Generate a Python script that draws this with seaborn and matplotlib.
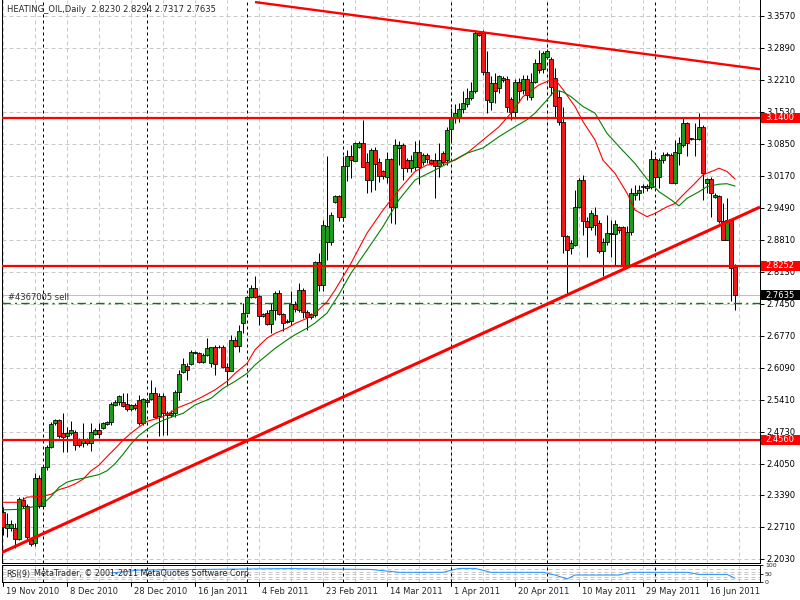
import numpy as np
import pandas as pd
import matplotlib
matplotlib.use("Agg")
import matplotlib.pyplot as plt
from matplotlib.patches import Rectangle
import seaborn as sns

# ---------------- data ----------------
opens = [2.303, 2.268, 2.268, 2.268, 2.245, 2.327, 2.315, 2.243, 2.236, 2.374,
         2.315, 2.398, 2.441, 2.491, 2.497, 2.470, 2.464, 2.470, 2.473, 2.456,
         2.449, 2.456, 2.449, 2.468, 2.477, 2.480, 2.490, 2.494, 2.530, 2.537,
         2.537, 2.532, 2.521, 2.530, 2.541, 2.491, 2.541, 2.542, 2.555, 2.507,
         2.548, 2.512, 2.509, 2.512, 2.558, 2.599, 2.612, 2.616, 2.641, 2.640,
         2.622, 2.636, 2.618, 2.652, 2.654, 2.654, 2.611, 2.603, 2.668, 2.655,
         2.703, 2.726, 2.759, 2.778, 2.761, 2.718, 2.725, 2.702, 2.732, 2.767,
         2.723, 2.709, 2.709, 2.745, 2.732, 2.774, 2.728, 2.716, 2.721, 2.833,
         2.785, 2.876, 2.877, 2.962, 2.973, 2.930, 3.038, 3.059, 3.048, 3.077,
         3.087, 3.047, 3.007, 3.072, 3.047, 3.028, 3.015, 3.052, 2.951, 3.075,
         3.082, 3.050, 3.033, 3.036, 3.068, 3.046, 3.061, 3.050, 3.050, 3.038,
         3.065, 3.050, 3.116, 3.139, 3.139, 3.158, 3.170, 3.182, 3.196, 3.321,
         3.321, 3.238, 3.174, 3.213, 3.203, 3.224, 3.222, 3.179, 3.153, 3.217,
         3.200, 3.222, 3.185, 3.217, 3.257, 3.243, 3.270, 3.266, 3.224, 3.185,
         3.132, 2.888, 2.863, 2.870, 2.951, 3.008, 2.920, 2.909, 2.934, 2.916,
         2.856, 2.877, 2.895, 2.893, 2.907, 2.907, 2.828, 2.898, 2.976, 2.980,
         2.995, 2.990, 2.993, 3.052, 3.015, 3.050, 3.064, 3.061, 3.002, 3.066,
         3.082, 3.128, 3.096, 3.095, 3.096, 3.120, 3.001, 3.010, 2.971, 2.973,
         2.920, 2.880, 2.924, 2.8230]
highs = [2.314, 2.300, 2.285, 2.280, 2.335, 2.335, 2.320, 2.245, 2.385, 2.381,
         2.403, 2.445, 2.494, 2.499, 2.499, 2.512, 2.484, 2.495, 2.477, 2.460,
         2.492, 2.460, 2.491, 2.480, 2.491, 2.494, 2.496, 2.537, 2.540, 2.551,
         2.555, 2.555, 2.532, 2.535, 2.551, 2.544, 2.545, 2.583, 2.569, 2.555,
         2.555, 2.516, 2.520, 2.562, 2.605, 2.629, 2.619, 2.647, 2.645, 2.643,
         2.640, 2.672, 2.654, 2.657, 2.657, 2.657, 2.618, 2.679, 2.675, 2.700,
         2.746, 2.762, 2.785, 2.803, 2.763, 2.725, 2.732, 2.746, 2.771, 2.774,
         2.725, 2.712, 2.771, 2.750, 2.790, 2.778, 2.732, 2.725, 2.835, 2.852,
         2.922, 3.058, 2.940, 2.975, 2.975, 3.058, 3.072, 3.082, 3.089, 3.090,
         3.135, 3.065, 3.075, 3.079, 3.054, 3.030, 3.068, 3.054, 3.096, 3.090,
         3.086, 3.055, 3.060, 3.090, 3.093, 3.065, 3.065, 3.052, 3.065, 3.086,
         3.070, 3.120, 3.160, 3.170, 3.172, 3.196, 3.203, 3.217, 3.327, 3.325,
         3.327, 3.281, 3.228, 3.235, 3.231, 3.228, 3.228, 3.185, 3.222, 3.224,
         3.230, 3.231, 3.235, 3.266, 3.284, 3.281, 3.286, 3.270, 3.245, 3.199,
         3.164, 2.890, 2.880, 2.987, 3.012, 3.019, 2.930, 2.944, 2.951, 2.923,
         2.884, 2.934, 2.923, 2.923, 2.910, 2.910, 2.910, 2.990, 2.997, 2.997,
         3.000, 3.000, 3.072, 3.058, 3.054, 3.068, 3.068, 3.065, 3.093, 3.100,
         3.139, 3.132, 3.098, 3.128, 3.150, 3.125, 3.012, 3.015, 2.981, 2.976,
         2.958, 2.970, 2.926, 2.8294]
lows = [2.254, 2.250, 2.262, 2.226, 2.243, 2.310, 2.240, 2.231, 2.231, 2.310,
        2.310, 2.392, 2.438, 2.488, 2.459, 2.429, 2.429, 2.465, 2.434, 2.440,
        2.441, 2.445, 2.431, 2.465, 2.459, 2.478, 2.488, 2.487, 2.528, 2.530,
        2.526, 2.516, 2.518, 2.520, 2.487, 2.487, 2.530, 2.540, 2.502, 2.463,
        2.466, 2.466, 2.505, 2.505, 2.541, 2.598, 2.583, 2.615, 2.638, 2.620,
        2.620, 2.633, 2.611, 2.594, 2.650, 2.609, 2.572, 2.601, 2.654, 2.643,
        2.682, 2.725, 2.757, 2.757, 2.700, 2.716, 2.700, 2.682, 2.711, 2.721,
        2.686, 2.705, 2.700, 2.728, 2.728, 2.714, 2.690, 2.712, 2.716, 2.771,
        2.771, 2.838, 2.870, 2.960, 2.920, 2.920, 3.005, 3.012, 3.048, 3.075,
        3.036, 2.980, 2.983, 2.987, 3.004, 3.010, 3.001, 2.916, 2.915, 3.040,
        3.008, 3.025, 3.025, 3.030, 3.000, 3.040, 3.045, 3.040, 2.969, 3.015,
        3.040, 3.040, 3.090, 3.130, 3.132, 3.150, 3.162, 3.178, 3.192, 3.313,
        3.231, 3.150, 3.157, 3.171, 3.192, 3.217, 3.153, 3.136, 3.142, 3.174,
        3.190, 3.178, 3.178, 3.213, 3.235, 3.235, 3.266, 3.189, 3.142, 3.125,
        2.852, 2.767, 2.850, 2.867, 2.948, 2.891, 2.845, 2.902, 2.891, 2.852,
        2.803, 2.870, 2.845, 2.827, 2.895, 2.821, 2.820, 2.890, 2.966, 2.966,
        2.980, 2.985, 2.988, 2.994, 2.990, 3.044, 3.058, 3.001, 3.000, 3.040,
        3.079, 3.058, 3.093, 3.058, 3.093, 2.966, 2.980, 2.930, 2.969, 2.916,
        2.880, 2.880, 2.750, 2.7317]
closes = [2.271, 2.277, 2.277, 2.245, 2.330, 2.315, 2.250, 2.235, 2.374, 2.315,
          2.398, 2.441, 2.489, 2.497, 2.464, 2.461, 2.471, 2.477, 2.445, 2.445,
          2.457, 2.449, 2.473, 2.477, 2.468, 2.492, 2.494, 2.532, 2.537, 2.549,
          2.528, 2.521, 2.530, 2.523, 2.491, 2.542, 2.537, 2.555, 2.505, 2.549,
          2.512, 2.509, 2.513, 2.558, 2.595, 2.616, 2.604, 2.642, 2.643, 2.622,
          2.636, 2.650, 2.652, 2.617, 2.652, 2.611, 2.603, 2.668, 2.655, 2.686,
          2.726, 2.759, 2.778, 2.760, 2.718, 2.723, 2.702, 2.732, 2.767, 2.723,
          2.703, 2.707, 2.745, 2.733, 2.774, 2.728, 2.716, 2.723, 2.833, 2.785,
          2.912, 2.910, 2.934, 2.973, 2.930, 3.038, 3.059, 3.050, 3.087, 3.087,
          3.036, 3.007, 3.072, 3.042, 3.017, 3.017, 3.052, 2.951, 3.082, 3.082,
          3.033, 3.033, 3.050, 3.068, 3.036, 3.061, 3.052, 3.044, 3.038, 3.050,
          3.047, 3.115, 3.139, 3.150, 3.158, 3.171, 3.182, 3.198, 3.321, 3.316,
          3.238, 3.178, 3.213, 3.196, 3.228, 3.220, 3.164, 3.153, 3.217, 3.196,
          3.222, 3.189, 3.217, 3.257, 3.242, 3.277, 3.283, 3.206, 3.165, 3.132,
          2.888, 2.860, 2.873, 2.951, 3.008, 2.920, 2.909, 2.937, 2.912, 2.856,
          2.877, 2.895, 2.893, 2.914, 2.902, 2.828, 2.898, 2.980, 2.981, 2.987,
          2.994, 2.995, 3.052, 3.014, 3.050, 3.061, 3.061, 3.002, 3.068, 3.086,
          3.128, 3.086, 3.095, 3.094, 3.120, 3.022, 3.010, 2.980, 2.976, 2.920,
          2.880, 2.923, 2.820, 2.7635]

# moving averages (bar index, price)
ma_red_bars = [0, 4, 6, 10, 12, 14, 16, 18, 20, 22, 24, 26, 28, 30, 32, 34, 36, 38, 40,
               44, 47, 50, 53, 56, 58, 61, 63, 66, 68, 71, 73, 76, 78, 81, 83, 87, 91,
               95, 99, 103, 106, 110, 113, 116, 120, 124, 127, 130, 134, 137, 138, 140,
               143, 145, 148, 150, 153, 156, 158, 161, 163, 166, 168, 170, 173, 175,
               178, 179, 181, 183]
ma_red_vals = [2.323, 2.323, 2.334, 2.336, 2.340, 2.350, 2.355, 2.362, 2.372, 2.390,
               2.402, 2.420, 2.437, 2.455, 2.470, 2.483, 2.495, 2.500, 2.505, 2.525,
               2.535, 2.548, 2.562, 2.580, 2.597, 2.618, 2.647, 2.672, 2.682, 2.693,
               2.703, 2.714, 2.725, 2.749, 2.774, 2.831, 2.895, 2.944, 2.987, 3.026,
               3.040, 3.043, 3.050, 3.065, 3.093, 3.121, 3.150, 3.185, 3.210, 3.221,
               3.222, 3.200, 3.164, 3.132, 3.093, 3.050, 3.022, 2.980, 2.944, 2.930,
               2.937, 2.951, 2.958, 2.976, 3.001, 3.019, 3.029, 3.033, 3.026, 3.010]
ma_green_bars = [0, 4, 8, 10, 12, 14, 16, 18, 20, 22, 24, 26, 28, 30, 32, 34, 36, 38,
                 40, 42, 45, 48, 52, 55, 58, 61, 63, 66, 68, 71, 73, 76, 78, 81, 84,
                 87, 91, 95, 99, 103, 108, 112, 116, 120, 124, 128, 131, 133, 136, 138,
                 140, 142, 145, 148, 151, 154, 158, 161, 164, 167, 169, 171, 174, 176,
                 179, 181, 183]
ma_green_vals = [2.307, 2.308, 2.314, 2.320, 2.335, 2.355, 2.366, 2.371, 2.374, 2.378,
                 2.382, 2.390, 2.405, 2.425, 2.447, 2.465, 2.478, 2.489, 2.497, 2.504,
                 2.512, 2.530, 2.544, 2.565, 2.580, 2.597, 2.615, 2.636, 2.650, 2.668,
                 2.679, 2.693, 2.704, 2.725, 2.765, 2.810, 2.859, 2.909, 2.966, 3.008,
                 3.029, 3.047, 3.065, 3.076, 3.100, 3.121, 3.136, 3.150, 3.178, 3.199,
                 3.195, 3.185, 3.164, 3.150, 3.107, 3.079, 3.043, 3.010, 2.983, 2.966,
                 2.953, 2.969, 2.983, 2.994, 2.999, 3.000, 2.995]

# RSI(9) sub-window values (bar index, value)
rsi_bars = [27, 34, 49, 72, 82, 92, 99, 110, 114, 118, 122, 135, 138, 141, 143, 154,
            157, 171, 174, 181, 183]
rsi_vals = [53, 70, 74, 79, 76, 74, 57, 57, 80, 80, 57, 57, 41, 18, 41, 41, 57, 57,
            45, 45, 22]

price_ticks = [3.3570, 3.2890, 3.2210, 3.1530, 3.0850, 3.0170, 2.9490, 2.8810,
               2.8130, 2.7450, 2.6770, 2.6090, 2.5410, 2.4730, 2.4050, 2.3390,
               2.2710, 2.2030]
rsi_ticks = [100, 50, 0]
date_labels = ["19 Nov 2010", "8 Dec 2010", "28 Dec 2010", "16 Jan 2011",
               "4 Feb 2011", "23 Feb 2011", "14 Mar 2011", "1 Apr 2011",
               "20 Apr 2011", "10 May 2011", "29 May 2011", "16 Jun 2011"]
date_label_bars = [0, 16, 32, 48, 64, 80, 96, 112, 128, 144, 160, 176]
month_sep_bars = [10, 36, 61, 85, 112, 136, 163]

hline_levels = [3.1400, 2.8252, 2.4560]
up_trend_bars = [-0.75, 189.25]
up_trend_prices = [2.2147, 2.9504]
down_trend_bars = [63, 189.25]
down_trend_prices = [3.3860, 3.2433]
order_price = 2.7475
bid_price = 2.7635
marked_levels = [(3.1400, "#ff0000"), (2.8252, "#ff0000"), (bid_price, "#000000"),
                 (2.4560, "#ff0000")]

title_text = "HEATING_OIL,Daily  2.8230 2.8294 2.7317 2.7635"
order_text = "#4367005 sell"
rsi_text = "RSI(9)"
copyright_text = "MetaTrader, \u00a9 2001-2011 MetaQuotes Software Corp."

# ---------------- drawing ----------------
sns.set_style("white")
plt.rcParams['font.family'] = ['DejaVu Sans']
W, H = 800, 600
PX = 0.72  # one pixel in points
fig = plt.figure(figsize=(8, 6), dpi=100)
fig.patch.set_facecolor("white")

ax = fig.add_axes([2 / W, 1 - 563 / H, 758 / W, 563 / H])
axr = fig.add_axes([2 / W, 1 - 582 / H, 758 / W, 17 / H])
XMIN, XMAX = -0.25, 189.25
YTOP = 3.3904
YBOT = YTOP - 563 / 470.6
ax.set_xlim(XMIN, XMAX)
ax.set_ylim(YBOT, YTOP)
axr.set_xlim(XMIN, XMAX)
axr.set_ylim(0, 100)

grid_col = "#c8c8c8"
for t in price_ticks:
    ax.axhline(t, color=grid_col, lw=PX, ls=(0, (4, 3)), zorder=0)
for b in range(0, 190, 8):
    ax.axvline(b, color=grid_col, lw=PX, ls=(0, (4, 3)), zorder=0)
    axr.axvline(b, color=grid_col, lw=PX, ls=(0, (4, 3)), zorder=0)
for lv in [18, 30, 47, 59, 76]:
    axr.axhline(lv, color=grid_col, lw=PX, ls=(0, (4, 3)), zorder=0)
for b in month_sep_bars:
    ax.axvline(b, color="black", lw=PX, ls=(0, (3, 3)), zorder=1)
    axr.axvline(b, color="black", lw=PX, ls=(0, (3, 3)), zorder=1)

df = pd.DataFrame({"bar": np.arange(len(closes)), "open": opens, "high": highs,
                   "low": lows, "close": closes})
up = df["close"] >= df["open"]
bottom = np.minimum(df["open"], df["close"])
height = np.maximum(np.abs(df["close"] - df["open"]), 0.0015)
ax.vlines(df["bar"], df["low"], df["high"], color="black", lw=PX, zorder=3)
ax.bar(df["bar"], height, bottom=bottom, width=0.8,
       color=np.where(up, "#1f9a1f", "#f01818"), edgecolor="black",
       linewidth=0.55, zorder=4)

ma = pd.DataFrame({"bar": ma_red_bars, "val": ma_red_vals})
sns.lineplot(data=ma, x="bar", y="val", ax=ax, color="#ff0000", lw=0.8,
             estimator=None, sort=False, zorder=5)
mg = pd.DataFrame({"bar": ma_green_bars, "val": ma_green_vals})
sns.lineplot(data=mg, x="bar", y="val", ax=ax, color="#008000", lw=0.8,
             estimator=None, sort=False, zorder=5)

ax.axhline(bid_price, color="#c0c0c0", lw=PX, zorder=2)
ax.axhline(order_price, color="#008000", lw=1.0, ls=(0, (6, 3, 1.5, 3)), zorder=6)
for lv in hline_levels:
    ax.axhline(lv, color="#ff0000", lw=1.6, zorder=6)
ax.plot(up_trend_bars, up_trend_prices, color="#ff0000", lw=2.2, zorder=6,
        solid_capstyle="butt")
ax.plot(down_trend_bars, down_trend_prices, color="#ff0000", lw=1.7, zorder=6,
        solid_capstyle="butt")

# axes cosmetics
for a in (ax, axr):
    a.set_xlabel("")
    a.set_ylabel("")
    a.set_xticks([])
    for s in a.spines.values():
        s.set_color("black")
        s.set_linewidth(PX)
ax.spines["top"].set_visible(False)
ax.yaxis.tick_right()
ax.set_yticks(price_ticks)
ax.set_yticklabels([f"{t:.4f}" for t in price_ticks])
ax.tick_params(axis="y", length=3, width=PX, pad=1.5, labelsize=6, colors="black")

rsi_df = pd.DataFrame({"bar": rsi_bars, "val": rsi_vals})
sns.lineplot(data=rsi_df, x="bar", y="val", ax=axr, color="#1e90ff", lw=PX,
             estimator=None, sort=False, zorder=3)
axr.yaxis.tick_right()
axr.set_yticks(rsi_ticks)
axr.set_yticklabels([str(t) for t in rsi_ticks])
axr.tick_params(axis="y", length=2, width=PX, pad=1.5, labelsize=4.5)

# price boxes on the right scale
for val, col in marked_levels:
    ypx = (YTOP - val) * 470.6
    fig.patches.append(Rectangle((761 / W, 1 - (ypx + 4.8) / H), 39 / W, 9.6 / H,
                                 transform=fig.transFigure, facecolor=col,
                                 edgecolor="none", zorder=10))
    fig.text(765 / W, 1 - ypx / H, f"{val:.4f}", color="white", fontsize=6,
             ha="left", va="center", zorder=11)

# texts
fig.text(7 / W, 1 - 9 / H, title_text, fontsize=6, ha="left", va="center")
fig.text(8 / W, 1 - 297 / H, order_text, fontsize=6, ha="left", va="center",
         color="#303030")
fig.text(6 / W, 1 - 574 / H, rsi_text, fontsize=5.8, ha="left", va="center")
fig.text(34 / W, 1 - 574 / H, copyright_text, fontsize=5.8, ha="left", va="center")

# date scale
for b, lab in zip(date_label_bars, date_labels):
    xpx = 2 + (b - XMIN) * 4
    fig.lines.append(plt.Line2D([xpx / W, xpx / W], [1 - 582 / H, 1 - 586 / H],
                                transform=fig.transFigure, color="black", lw=PX))
    fig.text((xpx + 3) / W, 1 - 591 / H, lab, fontsize=6, ha="left", va="center")

fig.savefig("out.png", dpi=100, facecolor="white")
